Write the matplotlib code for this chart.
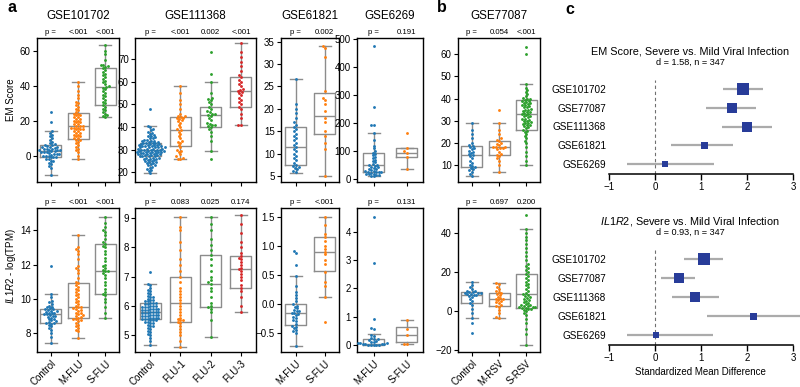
import numpy as np
import matplotlib
matplotlib.use("Agg")
import matplotlib.pyplot as plt
from matplotlib.transforms import blended_transform_factory

plt.rcParams['font.family'] = ['Liberation Sans', 'DejaVu Sans']
plt.rcParams['mathtext.fontset'] = 'custom'
plt.rcParams['mathtext.it'] = 'Liberation Sans:italic'
plt.rcParams['mathtext.rm'] = 'Liberation Sans'

W, H, DPI = 800, 387, 100

# ---------------- data: EM Score (top row) ----------------
em101702_control = [-11, -7, -6, -5, -4, -3, -3, -2, -2, -1, -1, -1, 0, 0, 0, 0.5, 1, 1, 1, 1.5, 2, 2, 2, 2.5,
                    2.5, 3, 3, 3, 3.5, 4, 4, 4, 4.5, 5, 5, 5, 5.5, 6, 6, 6.5, 7, 8, 9, 10, 11, 12, 13, 14, 19, 25]
em101702_mflu = [-2, 0, 2, 3, 4, 5, 6, 7, 8, 9, 9, 10, 10, 11, 11, 12, 12, 13, 13, 14, 14, 15, 15, 15, 16, 16, 16,
                 17, 17, 17, 18, 18, 19, 19, 20, 20, 21, 21, 22, 22, 23, 23, 24, 24, 25, 26, 27, 28, 29, 30, 31,
                 33, 35, 37, 40, 42]
em101702_sflu = [22, 22.5, 23, 24, 25, 26, 27, 28, 29, 30, 31, 32, 33, 34, 35, 36, 37, 38, 39, 39.5, 40, 41, 42,
                 43, 44, 45, 46, 47, 48, 49, 50, 51, 51.5, 52, 52, 55, 58, 60, 63.5]
em101702_q1, em101702_med, em101702_q3 = [-1, 9.5, 29], [2.5, 17, 39.5], [6, 24.5, 50]
em101702_wlo, em101702_whi = [-11, -2, 22], [14, 42, 63.5]

em111368_control = [19.5, 20.5, 21, 21.5, 22, 22.5, 23, 23, 23.5, 24, 24, 24.5, 24.5, 25, 25, 25.5, 25.5, 26, 26,
                    26, 26.5, 26.5, 26.5, 27, 27, 27, 27, 27.5, 27.5, 27.5, 28, 28, 28, 28, 28.5, 28.5, 28.5, 28.5,
                    29, 29, 29, 29, 29, 29.5, 29.5, 29.5, 29.5, 30, 30, 30, 30, 30, 30.5, 30.5, 30.5, 30.5, 31, 31,
                    31, 31, 31, 31.5, 31.5, 31.5, 31.5, 32, 32, 32, 32, 32.5, 32.5, 32.5, 33, 33, 33, 33, 33.5,
                    33.5, 34, 34, 34, 34.5, 34.5, 35, 35, 35.5, 36, 36, 36.5, 37, 37.5, 38, 38.5, 39, 40, 40.5, 48]
em111368_flu1 = [26, 26, 26.5, 27, 28, 29, 29.5, 30, 31, 32, 33, 33.5, 34, 35, 36, 37, 38, 38.5, 39, 40, 41, 42,
                 42.5, 43, 43.5, 44, 44, 44.5, 45, 45, 46, 48, 50, 52, 55, 58]
em111368_flu2 = [26, 29.5, 34, 36, 38, 39, 40, 40.5, 41, 41, 41.5, 42, 43, 44, 45, 45.5, 46, 46, 46.5, 47, 48, 49,
                 50, 51, 52, 52.5, 53, 55, 60, 63.5, 73]
em111368_flu3 = [41, 41, 44, 46, 48, 49, 50, 51, 52, 53, 54, 55, 55.5, 56, 56.5, 57, 58, 59, 60, 61, 62, 63, 65,
                 67, 69, 71, 73, 77]
em111368_q1, em111368_med, em111368_q3 = [27, 31.5, 40, 49], [30, 38.5, 45.5, 56], [33, 44.5, 49, 62]
em111368_wlo, em111368_whi = [19.5, 26, 29.5, 41], [40.5, 58, 60, 77]

em61821_mflu = [6, 6.2, 6.5, 6.8, 7, 7.2, 7.5, 8, 8.5, 9, 9.5, 10, 10.5, 11, 11.5, 12, 12.5, 13, 13.5, 14, 14.5,
                15, 15.5, 16, 16.5, 17, 18, 19, 20, 21, 26.7]
em61821_sflu = [5, 11, 12.5, 14, 15, 17, 18, 19.5, 21, 22, 22.5, 24, 31.5, 33.5, 34]
em61821_q1, em61821_med, em61821_q3 = [7.5, 14.5], [11.5, 18.5], [16, 23.5]
em61821_wlo, em61821_whi = [5.8, 5], [26.7, 34]

em6269_mflu = [10, 12, 14, 15, 17, 18, 20, 22, 24, 25, 26, 27, 28, 30, 32, 35, 38, 40, 42, 45, 48, 50, 52, 55,
               60, 65, 70, 75, 80, 85, 90, 95, 100, 110, 120, 140, 165, 195, 195, 258, 475]
em6269_sflu = [37, 80, 95, 100, 113, 165]
em6269_q1, em6269_med, em6269_q3 = [27, 80], [50, 95], [92, 113]
em6269_wlo, em6269_whi = [10, 37], [165, 113]

em77087_control = [5, 6, 7, 7.5, 8, 8.5, 9, 9.5, 10, 11, 12, 13, 14, 14.5, 15, 15.5, 16, 16.5, 17, 17.5, 18, 18.5,
                   19, 20, 22, 24, 26, 29]
em77087_mrsv = [7, 10, 12, 13, 14, 14.5, 15, 16, 17, 17.5, 17.5, 18, 18, 18, 19, 19.5, 20, 21, 21.5, 22, 24, 26,
                29, 35]
em77087_srsv = [10, 12, 14, 16, 18, 20, 21, 22, 23, 24, 25, 25.5, 26, 26.5, 27, 27.5, 28, 28, 28.5, 29, 29, 29.5,
                30, 30, 30.5, 31, 31, 31.5, 32, 32, 32.5, 33, 33, 33.5, 34, 34, 34.5, 35, 35, 35.5, 36, 36, 36.5,
                37, 37, 37.5, 38, 38, 38.5, 39, 39, 39.5, 40, 40, 40.5, 41, 42, 43, 44, 45, 46.5, 60, 63.5]
em77087_q1, em77087_med, em77087_q3 = [9, 14.5, 26], [14.5, 18, 33], [18.5, 21, 39.5]
em77087_wlo, em77087_whi = [5, 7, 10], [29, 29, 46.5]

# ---------------- data: IL1R2 (bottom row) ----------------
il101702_control = [7.4, 7.8, 8.0, 8.2, 8.3, 8.4, 8.5, 8.55, 8.6, 8.6, 8.65, 8.7, 8.75, 8.8, 8.85, 8.9, 8.95, 9.0,
                    9.0, 9.05, 9.1, 9.1, 9.15, 9.2, 9.2, 9.25, 9.3, 9.3, 9.35, 9.4, 9.4, 9.45, 9.5, 9.55, 9.6, 9.7,
                    9.8, 9.9, 10.1, 10.3, 11.9]
il101702_mflu = [7.7, 8.1, 8.2, 8.3, 8.4, 8.5, 8.6, 8.7, 8.75, 8.8, 8.85, 8.9, 8.95, 9.0, 9.05, 9.1, 9.15, 9.2,
                 9.3, 9.35, 9.4, 9.45, 9.5, 9.55, 9.6, 9.7, 9.8, 9.9, 10.0, 10.1, 10.2, 10.3, 10.4, 10.5, 10.6,
                 10.7, 10.8, 10.9, 11.0, 11.2, 11.5, 11.7, 11.8, 11.9, 12.3, 12.6, 12.8, 12.9, 13.0, 13.7]
il101702_sflu = [8.9, 9.2, 9.5, 9.8, 10.0, 10.2, 10.3, 10.4, 10.6, 10.8, 11.0, 11.2, 11.4, 11.5, 11.6, 11.65, 11.7,
                 11.8, 11.9, 12.0, 12.2, 12.4, 12.6, 12.8, 13.0, 13.1, 13.2, 13.3, 13.5, 13.7, 13.9, 14.0, 14.2,
                 14.4, 14.8]
il101702_q1, il101702_med, il101702_q3 = [8.6, 8.9, 10.3], [9.1, 9.55, 11.65], [9.4, 10.9, 13.2]
il101702_wlo, il101702_whi = [7.4, 7.7, 8.9], [10.3, 13.7, 14.8]

il111368_control = [4.65, 4.8, 4.9, 5.0, 5.05, 5.1, 5.15, 5.2, 5.25, 5.3, 5.3, 5.35, 5.4, 5.4, 5.45, 5.45, 5.5,
                    5.5, 5.5, 5.55, 5.55, 5.55, 5.6, 5.6, 5.6, 5.6, 5.65, 5.65, 5.65, 5.7, 5.7, 5.7, 5.7, 5.75,
                    5.75, 5.75, 5.8, 5.8, 5.8, 5.8, 5.85, 5.85, 5.85, 5.9, 5.9, 5.9, 5.9, 5.95, 5.95, 5.95, 6.0,
                    6.0, 6.0, 6.05, 6.05, 6.1, 6.1, 6.1, 6.15, 6.15, 6.2, 6.2, 6.25, 6.3, 6.3, 6.35, 6.4, 6.45,
                    6.5, 6.55, 6.6, 6.7, 6.75, 7.15]
il111368_flu1 = [4.6, 4.8, 5.0, 5.1, 5.2, 5.3, 5.4, 5.45, 5.5, 5.5, 5.55, 5.6, 5.7, 5.8, 5.9, 6.0, 6.1, 6.2, 6.3,
                 6.4, 6.5, 6.6, 6.8, 7.0, 7.2, 7.4, 7.6, 7.9, 8.2, 8.6, 8.7, 9.05]
il111368_flu2 = [4.95, 5.5, 5.8, 5.9, 5.95, 6.0, 6.1, 6.3, 6.5, 6.6, 6.75, 6.8, 6.9, 7.0, 7.2, 7.4, 7.6, 7.75, 7.9,
                 8.1, 8.3, 8.6, 8.8, 9.05]
il111368_flu3 = [5.8, 6.0, 6.3, 6.5, 6.6, 6.7, 6.9, 7.0, 7.1, 7.2, 7.25, 7.3, 7.4, 7.5, 7.6, 7.65, 7.7, 7.8, 8.0,
                 8.2, 8.5, 8.8, 9.1]
il111368_q1, il111368_med, il111368_q3 = [5.55, 5.45, 5.95, 6.6], [5.8, 6.1, 6.75, 7.25], [6.1, 7.0, 7.75, 7.7]
il111368_wlo, il111368_whi = [4.65, 4.6, 4.95, 5.8], [6.75, 9.05, 9.05, 9.1]

il61821_mflu = [-0.73, -0.5, -0.47, -0.45, -0.42, -0.4, -0.38, -0.35, -0.3, -0.28, -0.25, -0.22, -0.2, -0.18,
                -0.16, -0.15, -0.13, -0.12, -0.1, -0.08, -0.05, -0.03, -0.01, 0.05, 0.1, 0.15, 0.2, 0.3, 0.48,
                0.67, 0.87, 0.91]
il61821_sflu = [-0.32, 0.11, 0.3, 0.37, 0.55, 0.68, 0.75, 0.85, 0.9, 0.95, 1.0, 1.08, 1.15, 1.2, 1.35, 1.49]
il61821_q1, il61821_med, il61821_q3 = [-0.37, 0.57], [-0.15, 0.89], [-0.01, 1.15]
il61821_wlo, il61821_whi = [-0.73, 0.11], [0.48, 1.49]

il6269_mflu = [0, 0, 0, 0, 0.01, 0.02, 0.03, 0.04, 0.05, 0.06, 0.07, 0.08, 0.1, 0.12,
               0.15, 0.18, 0.2, 0.22, 0.25, 0.3, 0.35, 0.55, 0.6, 0.93, 2.88, 4.52]
il6269_sflu = [0.02, 0.05, 0.35, 0.55, 0.87]
il6269_q1, il6269_med, il6269_q3 = [0.01, 0.1], [0.05, 0.35], [0.21, 0.65]
il6269_wlo, il6269_whi = [0, 0.02], [0.37, 0.87]

il77087_control = [-11.5, -6, -3.5, -1, 1, 3, 4, 5, 6, 7, 7.5, 8, 8, 8.5, 8.5, 9, 9, 9, 9.5, 9.5, 10, 10, 11, 12,
                   13, 15]
il77087_mrsv = [-3.5, -3, -1, 0.5, 2, 2.5, 3, 4, 4.5, 5, 5.5, 6, 6, 6.5, 7, 8, 8.5, 9, 9.5, 10, 11, 12, 14, 14.5]
il77087_srsv = [-17.5, -12, -9, -6, -4, -2, -1, 0, 0.5, 1, 1, 1.5, 1.5, 2, 2, 2, 2.5, 2.5, 3, 3, 3.5, 4, 4.5, 5,
                5.5, 6, 6.5, 7, 7.5, 8, 8.5, 9, 10, 11, 12, 13, 14, 15, 16, 17, 18, 19, 20, 21, 22, 23, 24, 26,
                28, 30, 32, 34, 36, 38, 40, 42, 49]
il77087_q1, il77087_med, il77087_q3 = [3.8, 2.5, 1.5], [8, 6, 8.5], [9.5, 9, 19]
il77087_wlo, il77087_whi = [-3.5, -3.5, -17.5], [15, 14.5, 42]

# ---------------- data: forest plots ----------------
forest_studies = ["GSE101702", "GSE77087", "GSE111368", "GSE61821", "GSE6269"]
em_smd = [1.92, 1.68, 2.00, 1.07, 0.22]
em_ci_lo = [1.47, 1.10, 1.45, 0.35, -0.60]
em_ci_hi = [2.35, 2.20, 2.55, 1.70, 1.28]
il_smd = [1.07, 0.52, 0.88, 2.13, 0.03]
il_ci_lo = [0.62, 0.12, 0.37, 1.12, -0.60]
il_ci_hi = [1.48, 0.88, 1.40, 3.20, 1.25]
study_weight_px = [11.5, 10, 10, 7, 6.5]

# ---------------- styling ----------------
BLUE, ORANGE, GREEN, RED = '#1f77b4', '#ff7f0e', '#2ca02c', '#d62728'
BOXC = '#8c8c8c'

fig = plt.figure(figsize=(W / DPI, H / DPI), dpi=DPI)


def rect(l, t, r, b):
    return [l / W, 1 - b / H, (r - l) / W, (b - t) / H]


def swarm_offsets(ys_px, d):
    order = np.argsort(ys_px)
    xs = np.zeros(len(ys_px))
    placed = []
    for i in order:
        y = ys_px[i]
        forb = []
        for (px, py) in placed:
            dy = abs(py - y)
            if dy < d:
                h = np.sqrt(d * d - dy * dy)
                forb.append((px - h, px + h))
        cands = [0.0] + [a for a, b in forb] + [b for a, b in forb]
        cands.sort(key=lambda c: (abs(c), c))
        for c in cands:
            if all(not (a + 1e-6 < c < b - 1e-6) for a, b in forb):
                xs[i] = c
                break
        placed.append((xs[i], y))
    return xs


def box_panel(px_rect, groups, colors, q1, med, q3, wlo, whi, ylim, yticks, title, pvals,
              xlabels, bottom_row, ylabel=None, ylabel_y=None):
    l, t, r, b = px_rect
    ax = fig.add_axes(rect(l, t, r, b))
    n = len(groups)
    ax.set_xlim(-0.5, n - 0.5)
    ax.set_ylim(*ylim)
    cat_px = (r - l) / n
    stats = []
    for i in range(n):
        stats.append(dict(med=med[i], q1=q1[i], q3=q3[i], whislo=wlo[i], whishi=whi[i], fliers=[]))
    lp = dict(color=BOXC, linewidth=1.0)
    ax.bxp(stats, positions=list(range(n)), widths=21 / cat_px, showfliers=False,
           boxprops=lp, medianprops=lp, whiskerprops=lp, capprops=lp, capwidths=12 / cat_px,
           manage_ticks=False)
    for i, vals in enumerate(groups):
        vals = np.asarray(vals, float)
        ypx = ax.transData.transform(np.column_stack([np.full(len(vals), i), vals]))[:, 1]
        off = swarm_offsets(ypx, 2.7)
        ax.scatter(i + off / cat_px, vals, s=4.2, color=colors[i], linewidths=0, zorder=3, clip_on=False)
    ax.set_yticks(yticks)
    ax.set_xticks(range(n))
    ax.tick_params(axis='both', direction='out', length=3, width=0.8, labelsize=7, pad=1.5)
    if bottom_row:
        ax.set_xticklabels(xlabels, rotation=45, ha='right', rotation_mode='anchor', fontsize=7)
    else:
        ax.set_xticklabels([])
    for s in ax.spines.values():
        s.set_linewidth(1.0)
        s.set_color('black')
    tr = blended_transform_factory(ax.transData, ax.transAxes)
    dy = 6 / (b - t)
    ax.text(0, 1 + dy, 'p =', transform=tr, ha='center', va='center', fontsize=5.6)
    for i, p in enumerate(pvals):
        ax.text(i + 1, 1 + dy, p, transform=tr, ha='center', va='center', fontsize=5.6)
    if title:
        ax.text(0.5, 1 + 22 / (b - t), title, transform=ax.transAxes, ha='center', va='center', fontsize=8.4)
    if ylabel:
        fig.text(11.5 / W, 1 - ylabel_y / H, ylabel, rotation=90, ha='center', va='center', fontsize=7)
    return ax


T1, B1 = 38, 182
T2, B2 = 208, 352
cols = [(37, 119), (135, 256), (281, 339), (357, 423), (458, 540)]

# top row
box_panel((cols[0][0], T1, cols[0][1], B1), [em101702_control, em101702_mflu, em101702_sflu],
          [BLUE, ORANGE, GREEN], em101702_q1, em101702_med, em101702_q3, em101702_wlo, em101702_whi,
          (-15.1, 67.4), [0, 20, 40, 60], 'GSE101702', ['<.001', '<.001'], None, False,
          ylabel='EM Score', ylabel_y=100)
box_panel((cols[1][0], T1, cols[1][1], B1), [em111368_control, em111368_flu1, em111368_flu2, em111368_flu3],
          [BLUE, ORANGE, GREEN, RED], em111368_q1, em111368_med, em111368_q3, em111368_wlo, em111368_whi,
          (15.7, 79.4), [20, 30, 40, 50, 60, 70], 'GSE111368', ['<.001', '0.002', '<.001'], None, False)
box_panel((cols[2][0], T1, cols[2][1], B1), [em61821_mflu, em61821_sflu], [BLUE, ORANGE],
          em61821_q1, em61821_med, em61821_q3, em61821_wlo, em61821_whi,
          (3.7, 35.8), [5, 10, 15, 20, 25, 30, 35], 'GSE61821', ['0.002'], None, False)
box_panel((cols[3][0], T1, cols[3][1], B1), [em6269_mflu, em6269_sflu], [BLUE, ORANGE],
          em6269_q1, em6269_med, em6269_q3, em6269_wlo, em6269_whi,
          (-10, 505), [0, 100, 200, 300, 400, 500], 'GSE6269', ['0.191'], None, False)
box_panel((cols[4][0], T1, cols[4][1], B1), [em77087_control, em77087_mrsv, em77087_srsv],
          [BLUE, ORANGE, GREEN], em77087_q1, em77087_med, em77087_q3, em77087_wlo, em77087_whi,
          (2.3, 67.4), [10, 20, 30, 40, 50, 60], 'GSE77087', ['0.054', '<.001'], None, False)

# bottom row
box_panel((cols[0][0], T2, cols[0][1], B2), [il101702_control, il101702_mflu, il101702_sflu],
          [BLUE, ORANGE, GREEN], il101702_q1, il101702_med, il101702_q3, il101702_wlo, il101702_whi,
          (6.9, 15.3), [8, 10, 12, 14], None, ['<.001', '<.001'], ['Control', 'M-FLU', 'S-FLU'], True,
          ylabel=r'$\it{IL1R2}$ - log(TPM)', ylabel_y=266)
box_panel((cols[1][0], T2, cols[1][1], B2), [il111368_control, il111368_flu1, il111368_flu2, il111368_flu3],
          [BLUE, ORANGE, GREEN, RED], il111368_q1, il111368_med, il111368_q3, il111368_wlo, il111368_whi,
          (4.42, 9.35), [5, 6, 7, 8, 9], None, ['0.083', '0.025', '0.174'],
          ['Control', 'FLU-1', 'FLU-2', 'FLU-3'], True)
box_panel((cols[2][0], T2, cols[2][1], B2), [il61821_mflu, il61821_sflu], [BLUE, ORANGE],
          il61821_q1, il61821_med, il61821_q3, il61821_wlo, il61821_whi,
          (-0.83, 1.65), [-0.5, 0.0, 0.5, 1.0, 1.5], None, ['<.001'], ['M-FLU', 'S-FLU'], True)
box_panel((cols[3][0], T2, cols[3][1], B2), [il6269_mflu, il6269_sflu], [BLUE, ORANGE],
          il6269_q1, il6269_med, il6269_q3, il6269_wlo, il6269_whi,
          (-0.25, 4.84), [0, 1, 2, 3, 4], None, ['0.131'], ['M-FLU', 'S-FLU'], True)
box_panel((cols[4][0], T2, cols[4][1], B2), [il77087_control, il77087_mrsv, il77087_srsv],
          [BLUE, ORANGE, GREEN], il77087_q1, il77087_med, il77087_q3, il77087_wlo, il77087_whi,
          (-21, 52.6), [-20, 0, 20, 40], None, ['0.697', '0.200'], ['Control', 'M-RSV', 'S-RSV'], True)


# forest plots
def forest(px_rect, smd, lo, hi, title, subtitle, xlabel=None):
    l, t, r, b = px_rect
    ax = fig.add_axes(rect(l, t, r, b))
    n = len(forest_studies)
    ypos = np.arange(n)[::-1]
    ax.set_xlim(-1, 3)
    sp = (b - t - 19) / (n - 1)
    ax.set_ylim(-10 / sp, n - 1 + 9 / sp)
    ax.axvline(0, color='#707070', lw=0.8, ls=(0, (3, 2.5)), zorder=1)
    for i in range(n):
        ax.plot([lo[i], hi[i]], [ypos[i], ypos[i]], color='#ababab', lw=1.6, solid_capstyle='butt',
                zorder=2, clip_on=False)
        ax.plot([smd[i]], [ypos[i]], marker='s', ms=study_weight_px[i] * 72 / DPI, color='#283c99',
                mec='#283c99', mew=0, zorder=3, clip_on=False)
    ax.set_yticks(ypos)
    ax.set_yticklabels(forest_studies, fontsize=7.2)
    ax.set_xticks([-1, 0, 1, 2, 3])
    ax.tick_params(axis='y', length=0, pad=2)
    ax.tick_params(axis='x', length=4, width=1.0, labelsize=7, pad=2)
    for s in ['top', 'right', 'left']:
        ax.spines[s].set_visible(False)
    ax.spines['bottom'].set_linewidth(1.1)
    fig.text(690 / W, 1 - (t - 28) / H, title, ha='center', va='center', fontsize=7.8)
    fig.text(690 / W, 1 - (t - 18) / H, subtitle, ha='center', va='center', fontsize=6.6)
    if xlabel:
        fig.text(700 / W, 1 - 372 / H, xlabel, ha='center', va='center', fontsize=7)
    return ax


forest((609, 80, 793, 174), em_smd, em_ci_lo, em_ci_hi,
       'EM Score, Severe vs. Mild Viral Infection', 'd = 1.58, n = 347')
forest((609, 250, 793, 345), il_smd, il_ci_lo, il_ci_hi,
       r'$\it{IL1R2}$, Severe vs. Mild Viral Infection', 'd = 0.93, n = 347',
       xlabel='Standardized Mean Difference')

# panel letters
for letter, x, y in [('a', 12, 8), ('b', 442, 8), ('c', 570, 9)]:
    fig.text(x / W, 1 - y / H, letter, ha='center', va='center', fontsize=11.5, fontweight='bold')

fig.savefig('out.png', dpi=DPI)
